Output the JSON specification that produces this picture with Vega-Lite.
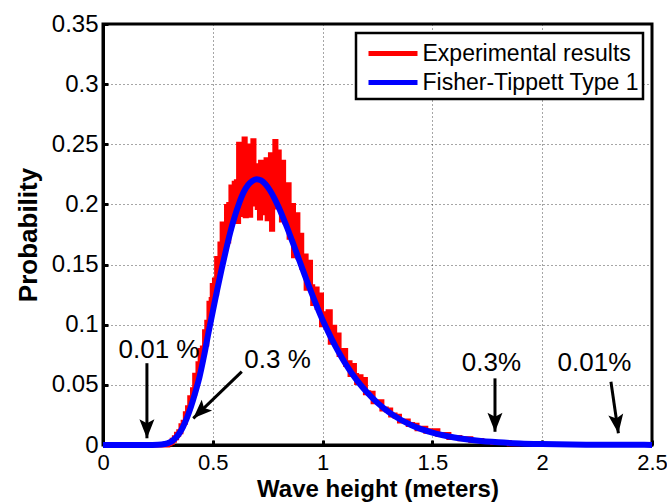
{
  "$schema": "https://vega.github.io/schema/vega-lite/v6.json",
  "autosize": {"type": "none"},
  "width": 549,
  "height": 421,
  "padding": {"left": 103, "top": 24, "right": 15, "bottom": 59},
  "background": "white",
  "config": {
    "font": "Liberation Sans",
    "view": {"stroke": "#000", "strokeWidth": 3},
    "axis": {
      "labelFont": "Liberation Sans",
      "labelFontSize": 24,
      "labelColor": "#000",
      "titleFont": "Liberation Sans",
      "titleFontSize": 26,
      "titleFontWeight": "bold",
      "titleColor": "#000",
      "domainColor": "#000",
      "domainWidth": 3,
      "tickColor": "#000",
      "tickWidth": 3,
      "tickSize": -5,
      "gridColor": "#000",
      "gridOpacity": 0.7,
      "gridDash": [1, 3],
      "gridWidth": 1,
      "zindex": 1
    },
    "legend": {
      "orient": "top-right",
      "offset": 9,
      "fillColor": "white",
      "strokeColor": "#000",
      "strokeWidth": 2.5,
      "padding": 4,
      "labelFont": "Liberation Sans",
      "labelFontSize": 23,
      "labelColor": "#000",
      "labelOffset": 13,
      "symbolType": "M-1.75,0L1.75,0",
      "symbolStrokeWidth": 5,
      "symbolSize": 784,
      "symbolOffset": 16.5,
      "rowPadding": 0,
      "labelLimit": 400
    }
  },
  "datasets": {
    "curves": [
      {"series": "Experimental results", "x": 0.0, "y": 0},
      {"series": "Experimental results", "x": 0.29, "y": 0},
      {"series": "Experimental results", "x": 0.30, "y": 0.001},
      {"series": "Experimental results", "x": 0.31, "y": 0.002},
      {"series": "Experimental results", "x": 0.32, "y": 0.004},
      {"series": "Experimental results", "x": 0.33, "y": 0.006},
      {"series": "Experimental results", "x": 0.34, "y": 0.009},
      {"series": "Experimental results", "x": 0.35, "y": 0.011},
      {"series": "Experimental results", "x": 0.36, "y": 0.016},
      {"series": "Experimental results", "x": 0.37, "y": 0.019},
      {"series": "Experimental results", "x": 0.38, "y": 0.026},
      {"series": "Experimental results", "x": 0.39, "y": 0.031},
      {"series": "Experimental results", "x": 0.400, "y": 0.0392},
      {"series": "Experimental results", "x": 0.405, "y": 0.0380},
      {"series": "Experimental results", "x": 0.410, "y": 0.0459},
      {"series": "Experimental results", "x": 0.415, "y": 0.0429},
      {"series": "Experimental results", "x": 0.420, "y": 0.0580},
      {"series": "Experimental results", "x": 0.425, "y": 0.0553},
      {"series": "Experimental results", "x": 0.430, "y": 0.0545},
      {"series": "Experimental results", "x": 0.435, "y": 0.0675},
      {"series": "Experimental results", "x": 0.440, "y": 0.0648},
      {"series": "Experimental results", "x": 0.445, "y": 0.0786},
      {"series": "Experimental results", "x": 0.450, "y": 0.0686},
      {"series": "Experimental results", "x": 0.455, "y": 0.0807},
      {"series": "Experimental results", "x": 0.460, "y": 0.0803},
      {"series": "Experimental results", "x": 0.465, "y": 0.0942},
      {"series": "Experimental results", "x": 0.470, "y": 0.0840},
      {"series": "Experimental results", "x": 0.475, "y": 0.1021},
      {"series": "Experimental results", "x": 0.480, "y": 0.1010},
      {"series": "Experimental results", "x": 0.485, "y": 0.1178},
      {"series": "Experimental results", "x": 0.490, "y": 0.1066},
      {"series": "Experimental results", "x": 0.495, "y": 0.1210},
      {"series": "Experimental results", "x": 0.500, "y": 0.1325},
      {"series": "Experimental results", "x": 0.505, "y": 0.1222},
      {"series": "Experimental results", "x": 0.510, "y": 0.1372},
      {"series": "Experimental results", "x": 0.515, "y": 0.1262},
      {"series": "Experimental results", "x": 0.520, "y": 0.1550},
      {"series": "Experimental results", "x": 0.525, "y": 0.1468},
      {"series": "Experimental results", "x": 0.530, "y": 0.1427},
      {"series": "Experimental results", "x": 0.535, "y": 0.1672},
      {"series": "Experimental results", "x": 0.540, "y": 0.1590},
      {"series": "Experimental results", "x": 0.545, "y": 0.1837},
      {"series": "Experimental results", "x": 0.550, "y": 0.1583},
      {"series": "Experimental results", "x": 0.555, "y": 0.1804},
      {"series": "Experimental results", "x": 0.560, "y": 0.1747},
      {"series": "Experimental results", "x": 0.565, "y": 0.1983},
      {"series": "Experimental results", "x": 0.570, "y": 0.1695},
      {"series": "Experimental results", "x": 0.575, "y": 0.2000},
      {"series": "Experimental results", "x": 0.580, "y": 0.1917},
      {"series": "Experimental results", "x": 0.585, "y": 0.2145},
      {"series": "Experimental results", "x": 0.590, "y": 0.1866},
      {"series": "Experimental results", "x": 0.595, "y": 0.2047},
      {"series": "Experimental results", "x": 0.600, "y": 0.2176},
      {"series": "Experimental results", "x": 0.605, "y": 0.1936},
      {"series": "Experimental results", "x": 0.610, "y": 0.2189},
      {"series": "Experimental results", "x": 0.615, "y": 0.1859},
      {"series": "Experimental results", "x": 0.620, "y": 0.2500},
      {"series": "Experimental results", "x": 0.625, "y": 0.2150},
      {"series": "Experimental results", "x": 0.630, "y": 0.1916},
      {"series": "Experimental results", "x": 0.635, "y": 0.2396},
      {"series": "Experimental results", "x": 0.640, "y": 0.2064},
      {"series": "Experimental results", "x": 0.645, "y": 0.2543},
      {"series": "Experimental results", "x": 0.650, "y": 0.1906},
      {"series": "Experimental results", "x": 0.655, "y": 0.2284},
      {"series": "Experimental results", "x": 0.660, "y": 0.2113},
      {"series": "Experimental results", "x": 0.665, "y": 0.2485},
      {"series": "Experimental results", "x": 0.670, "y": 0.1911},
      {"series": "Experimental results", "x": 0.675, "y": 0.2409},
      {"series": "Experimental results", "x": 0.680, "y": 0.2206},
      {"series": "Experimental results", "x": 0.685, "y": 0.2530},
      {"series": "Experimental results", "x": 0.690, "y": 0.2004},
      {"series": "Experimental results", "x": 0.695, "y": 0.2220},
      {"series": "Experimental results", "x": 0.700, "y": 0.2321},
      {"series": "Experimental results", "x": 0.705, "y": 0.1975},
      {"series": "Experimental results", "x": 0.710, "y": 0.2200},
      {"series": "Experimental results", "x": 0.715, "y": 0.1887},
      {"series": "Experimental results", "x": 0.720, "y": 0.2350},
      {"series": "Experimental results", "x": 0.725, "y": 0.2095},
      {"series": "Experimental results", "x": 0.730, "y": 0.1931},
      {"series": "Experimental results", "x": 0.735, "y": 0.2249},
      {"series": "Experimental results", "x": 0.740, "y": 0.2024},
      {"series": "Experimental results", "x": 0.745, "y": 0.2372},
      {"series": "Experimental results", "x": 0.750, "y": 0.1880},
      {"series": "Experimental results", "x": 0.755, "y": 0.2201},
      {"series": "Experimental results", "x": 0.760, "y": 0.2030},
      {"series": "Experimental results", "x": 0.765, "y": 0.2414},
      {"series": "Experimental results", "x": 0.770, "y": 0.1794},
      {"series": "Experimental results", "x": 0.775, "y": 0.2336},
      {"series": "Experimental results", "x": 0.780, "y": 0.2101},
      {"series": "Experimental results", "x": 0.785, "y": 0.2523},
      {"series": "Experimental results", "x": 0.790, "y": 0.1979},
      {"series": "Experimental results", "x": 0.795, "y": 0.2268},
      {"series": "Experimental results", "x": 0.800, "y": 0.2435},
      {"series": "Experimental results", "x": 0.805, "y": 0.2025},
      {"series": "Experimental results", "x": 0.810, "y": 0.2245},
      {"series": "Experimental results", "x": 0.815, "y": 0.1870},
      {"series": "Experimental results", "x": 0.820, "y": 0.2350},
      {"series": "Experimental results", "x": 0.825, "y": 0.2046},
      {"series": "Experimental results", "x": 0.830, "y": 0.1857},
      {"series": "Experimental results", "x": 0.835, "y": 0.2146},
      {"series": "Experimental results", "x": 0.840, "y": 0.1908},
      {"series": "Experimental results", "x": 0.845, "y": 0.2164},
      {"series": "Experimental results", "x": 0.850, "y": 0.1727},
      {"series": "Experimental results", "x": 0.855, "y": 0.1928},
      {"series": "Experimental results", "x": 0.860, "y": 0.1775},
      {"series": "Experimental results", "x": 0.865, "y": 0.1992},
      {"series": "Experimental results", "x": 0.870, "y": 0.1574},
      {"series": "Experimental results", "x": 0.875, "y": 0.1878},
      {"series": "Experimental results", "x": 0.880, "y": 0.1707},
      {"series": "Experimental results", "x": 0.885, "y": 0.1915},
      {"series": "Experimental results", "x": 0.890, "y": 0.1563},
      {"series": "Experimental results", "x": 0.895, "y": 0.1683},
      {"series": "Experimental results", "x": 0.900, "y": 0.1744},
      {"series": "Experimental results", "x": 0.91, "y": 0.1478},
      {"series": "Experimental results", "x": 0.92, "y": 0.1572},
      {"series": "Experimental results", "x": 0.93, "y": 0.1303},
      {"series": "Experimental results", "x": 0.94, "y": 0.1520},
      {"series": "Experimental results", "x": 0.95, "y": 0.1315},
      {"series": "Experimental results", "x": 0.96, "y": 0.1176},
      {"series": "Experimental results", "x": 0.97, "y": 0.1296},
      {"series": "Experimental results", "x": 0.98, "y": 0.1144},
      {"series": "Experimental results", "x": 0.99, "y": 0.1247},
      {"series": "Experimental results", "x": 1.00, "y": 0.0999},
      {"series": "Experimental results", "x": 1.01, "y": 0.1092},
      {"series": "Experimental results", "x": 1.02, "y": 0.0998},
      {"series": "Experimental results", "x": 1.03, "y": 0.1108},
      {"series": "Experimental results", "x": 1.04, "y": 0.0854},
      {"series": "Experimental results", "x": 1.05, "y": 0.0979},
      {"series": "Experimental results", "x": 1.06, "y": 0.0857},
      {"series": "Experimental results", "x": 1.07, "y": 0.0915},
      {"series": "Experimental results", "x": 1.08, "y": 0.0753},
      {"series": "Experimental results", "x": 1.09, "y": 0.0786},
      {"series": "Experimental results", "x": 1.10, "y": 0.0786},
      {"series": "Experimental results", "x": 1.11, "y": 0.0669},
      {"series": "Experimental results", "x": 1.12, "y": 0.0684},
      {"series": "Experimental results", "x": 1.13, "y": 0.0587},
      {"series": "Experimental results", "x": 1.14, "y": 0.0660},
      {"series": "Experimental results", "x": 1.15, "y": 0.0578},
      {"series": "Experimental results", "x": 1.16, "y": 0.0520},
      {"series": "Experimental results", "x": 1.17, "y": 0.0568},
      {"series": "Experimental results", "x": 1.18, "y": 0.0508},
      {"series": "Experimental results", "x": 1.19, "y": 0.0545},
      {"series": "Experimental results", "x": 1.20, "y": 0.0435},
      {"series": "Experimental results", "x": 1.22, "y": 0.043},
      {"series": "Experimental results", "x": 1.24, "y": 0.036},
      {"series": "Experimental results", "x": 1.26, "y": 0.036},
      {"series": "Experimental results", "x": 1.28, "y": 0.030},
      {"series": "Experimental results", "x": 1.30, "y": 0.029},
      {"series": "Experimental results", "x": 1.32, "y": 0.025},
      {"series": "Experimental results", "x": 1.34, "y": 0.024},
      {"series": "Experimental results", "x": 1.36, "y": 0.020},
      {"series": "Experimental results", "x": 1.38, "y": 0.020},
      {"series": "Experimental results", "x": 1.40, "y": 0.017},
      {"series": "Experimental results", "x": 1.42, "y": 0.0165},
      {"series": "Experimental results", "x": 1.44, "y": 0.0135},
      {"series": "Experimental results", "x": 1.46, "y": 0.014},
      {"series": "Experimental results", "x": 1.48, "y": 0.0115},
      {"series": "Experimental results", "x": 1.50, "y": 0.0118},
      {"series": "Experimental results", "x": 1.55, "y": 0.0088},
      {"series": "Experimental results", "x": 1.60, "y": 0.0062},
      {"series": "Experimental results", "x": 1.65, "y": 0.0053},
      {"series": "Experimental results", "x": 1.70, "y": 0.0037},
      {"series": "Experimental results", "x": 1.75, "y": 0.003},
      {"series": "Experimental results", "x": 1.80, "y": 0.0021},
      {"series": "Experimental results", "x": 1.90, "y": 0.001},
      {"series": "Fisher-Tippett Type 1", "x": 0.0, "y": 0},
      {"series": "Fisher-Tippett Type 1", "x": 0.1, "y": 0},
      {"series": "Fisher-Tippett Type 1", "x": 0.2, "y": 0},
      {"series": "Fisher-Tippett Type 1", "x": 0.25, "y": 0.0002},
      {"series": "Fisher-Tippett Type 1", "x": 0.28, "y": 0.0008},
      {"series": "Fisher-Tippett Type 1", "x": 0.30, "y": 0.0018},
      {"series": "Fisher-Tippett Type 1", "x": 0.32, "y": 0.0040},
      {"series": "Fisher-Tippett Type 1", "x": 0.34, "y": 0.0078},
      {"series": "Fisher-Tippett Type 1", "x": 0.36, "y": 0.0135},
      {"series": "Fisher-Tippett Type 1", "x": 0.38, "y": 0.0215},
      {"series": "Fisher-Tippett Type 1", "x": 0.40, "y": 0.0315},
      {"series": "Fisher-Tippett Type 1", "x": 0.42, "y": 0.0435},
      {"series": "Fisher-Tippett Type 1", "x": 0.44, "y": 0.0570},
      {"series": "Fisher-Tippett Type 1", "x": 0.46, "y": 0.0740},
      {"series": "Fisher-Tippett Type 1", "x": 0.48, "y": 0.0930},
      {"series": "Fisher-Tippett Type 1", "x": 0.50, "y": 0.1110},
      {"series": "Fisher-Tippett Type 1", "x": 0.52, "y": 0.1290},
      {"series": "Fisher-Tippett Type 1", "x": 0.54, "y": 0.1460},
      {"series": "Fisher-Tippett Type 1", "x": 0.56, "y": 0.1620},
      {"series": "Fisher-Tippett Type 1", "x": 0.58, "y": 0.1770},
      {"series": "Fisher-Tippett Type 1", "x": 0.60, "y": 0.1900},
      {"series": "Fisher-Tippett Type 1", "x": 0.62, "y": 0.2010},
      {"series": "Fisher-Tippett Type 1", "x": 0.64, "y": 0.2100},
      {"series": "Fisher-Tippett Type 1", "x": 0.66, "y": 0.2160},
      {"series": "Fisher-Tippett Type 1", "x": 0.68, "y": 0.2195},
      {"series": "Fisher-Tippett Type 1", "x": 0.70, "y": 0.2210},
      {"series": "Fisher-Tippett Type 1", "x": 0.72, "y": 0.2200},
      {"series": "Fisher-Tippett Type 1", "x": 0.74, "y": 0.2168},
      {"series": "Fisher-Tippett Type 1", "x": 0.76, "y": 0.2118},
      {"series": "Fisher-Tippett Type 1", "x": 0.78, "y": 0.2053},
      {"series": "Fisher-Tippett Type 1", "x": 0.80, "y": 0.1976},
      {"series": "Fisher-Tippett Type 1", "x": 0.82, "y": 0.1890},
      {"series": "Fisher-Tippett Type 1", "x": 0.84, "y": 0.1800},
      {"series": "Fisher-Tippett Type 1", "x": 0.86, "y": 0.1703},
      {"series": "Fisher-Tippett Type 1", "x": 0.88, "y": 0.1604},
      {"series": "Fisher-Tippett Type 1", "x": 0.90, "y": 0.1504},
      {"series": "Fisher-Tippett Type 1", "x": 0.92, "y": 0.1406},
      {"series": "Fisher-Tippett Type 1", "x": 0.94, "y": 0.1309},
      {"series": "Fisher-Tippett Type 1", "x": 0.96, "y": 0.1216},
      {"series": "Fisher-Tippett Type 1", "x": 0.98, "y": 0.1126},
      {"series": "Fisher-Tippett Type 1", "x": 1.00, "y": 0.1040},
      {"series": "Fisher-Tippett Type 1", "x": 1.02, "y": 0.0962},
      {"series": "Fisher-Tippett Type 1", "x": 1.04, "y": 0.0886},
      {"series": "Fisher-Tippett Type 1", "x": 1.06, "y": 0.0816},
      {"series": "Fisher-Tippett Type 1", "x": 1.08, "y": 0.0750},
      {"series": "Fisher-Tippett Type 1", "x": 1.10, "y": 0.0688},
      {"series": "Fisher-Tippett Type 1", "x": 1.12, "y": 0.0631},
      {"series": "Fisher-Tippett Type 1", "x": 1.14, "y": 0.0578},
      {"series": "Fisher-Tippett Type 1", "x": 1.16, "y": 0.0529},
      {"series": "Fisher-Tippett Type 1", "x": 1.18, "y": 0.0484},
      {"series": "Fisher-Tippett Type 1", "x": 1.20, "y": 0.0442},
      {"series": "Fisher-Tippett Type 1", "x": 1.25, "y": 0.0350},
      {"series": "Fisher-Tippett Type 1", "x": 1.30, "y": 0.0276},
      {"series": "Fisher-Tippett Type 1", "x": 1.35, "y": 0.0216},
      {"series": "Fisher-Tippett Type 1", "x": 1.40, "y": 0.0168},
      {"series": "Fisher-Tippett Type 1", "x": 1.50, "y": 0.0102},
      {"series": "Fisher-Tippett Type 1", "x": 1.60, "y": 0.0062},
      {"series": "Fisher-Tippett Type 1", "x": 1.70, "y": 0.0037},
      {"series": "Fisher-Tippett Type 1", "x": 1.80, "y": 0.0022},
      {"series": "Fisher-Tippett Type 1", "x": 1.90, "y": 0.0013},
      {"series": "Fisher-Tippett Type 1", "x": 2.00, "y": 0.0008},
      {"series": "Fisher-Tippett Type 1", "x": 2.20, "y": 0.0003},
      {"series": "Fisher-Tippett Type 1", "x": 2.50, "y": 0.0001}
    ],
    "notes": [
      {"label": "0.01 %", "x": 0.255, "y": 0.0725},
      {"label": "0.3 %", "x": 0.795, "y": 0.064},
      {"label": "0.3%", "x": 1.769, "y": 0.0618},
      {"label": "0.01%", "x": 2.238, "y": 0.0618}
    ],
    "arrows": [
      {"arrow": "a1", "x0": 0.2, "y0": 0.068, "x1": 0.2, "y1": 0.0056},
      {"arrow": "a2", "x0": 0.632, "y0": 0.061, "x1": 0.411, "y1": 0.0222},
      {"arrow": "a3", "x0": 1.785, "y0": 0.0554, "x1": 1.785, "y1": 0.011},
      {"arrow": "a4", "x0": 2.313, "y0": 0.0526, "x1": 2.347, "y1": 0.0097}
    ]
  },
  "layer": [
    {
      "data": {"name": "curves"},
      "transform": [{"filter": "datum.series === 'Experimental results'"}],
      "mark": {"type": "line", "interpolate": "step", "strokeWidth": 5, "clip": false},
      "encoding": {
        "x": {"field": "x", "type": "quantitative",
          "scale": {"domain": [0, 2.5], "nice": false, "zero": false},
          "axis": {"title": "Wave height (meters)", "values": [0, 0.5, 1, 1.5, 2, 2.5], "format": "~g", "labelFontSize": 22, "labelPadding": 12, "titleFontSize": 24, "titlePadding": 4, "labelFlush": false}},
        "y": {"field": "y", "type": "quantitative",
          "scale": {"domain": [0, 0.35], "nice": false},
          "axis": {"title": "Probability", "values": [0, 0.05, 0.1, 0.15, 0.2, 0.25, 0.3, 0.35], "format": "~g", "labelPadding": 10, "titlePadding": 10, "labelFlush": false}},
        "color": {"field": "series", "type": "nominal",
          "scale": {"domain": ["Experimental results", "Fisher-Tippett Type 1"], "range": ["#ff0000", "#0000ff"]},
          "legend": {"title": null}}
      }
    },
    {
      "data": {"name": "curves"},
      "transform": [{"filter": "datum.series === 'Fisher-Tippett Type 1'"}],
      "mark": {"type": "line", "interpolate": "monotone", "strokeWidth": 6, "clip": false},
      "encoding": {
        "x": {"field": "x", "type": "quantitative"},
        "y": {"field": "y", "type": "quantitative"},
        "color": {"field": "series", "type": "nominal"}
      }
    },
    {
      "data": {"name": "notes"},
      "mark": {"type": "text", "fontSize": 26, "font": "Liberation Sans", "color": "#000", "align": "center", "baseline": "alphabetic"},
      "encoding": {
        "x": {"field": "x", "type": "quantitative"},
        "y": {"field": "y", "type": "quantitative"},
        "text": {"field": "label"}
      }
    },
    {
      "data": {"name": "arrows"},
      "mark": {"type": "rule", "strokeWidth": 3, "color": "#000"},
      "encoding": {
        "x": {"field": "x0", "type": "quantitative"},
        "y": {"field": "y0", "type": "quantitative"},
        "x2": {"field": "x1"},
        "y2": {"field": "y1"}
      }
    },
    {
      "data": {"name": "arrows"},
      "transform": [{"filter": "datum.arrow === 'a1' || datum.arrow === 'a3'"}],
      "mark": {"type": "point", "shape": "M0,0L-0.75,-1.9L0,-1.5L0.75,-1.9Z", "size": 400, "filled": true, "color": "#000", "opacity": 1, "angle": 0},
      "encoding": {
        "x": {"field": "x1", "type": "quantitative"},
        "y": {"field": "y1", "type": "quantitative"}
      }
    },
    {
      "data": {"name": "arrows"},
      "transform": [{"filter": "datum.arrow === 'a2'"}],
      "mark": {"type": "point", "shape": "M0,0L-0.75,-1.9L0,-1.5L0.75,-1.9Z", "size": 400, "filled": true, "color": "#000", "opacity": 1, "angle": 46},
      "encoding": {
        "x": {"field": "x1", "type": "quantitative"},
        "y": {"field": "y1", "type": "quantitative"}
      }
    },
    {
      "data": {"name": "arrows"},
      "transform": [{"filter": "datum.arrow === 'a4'"}],
      "mark": {"type": "point", "shape": "M0,0L-0.75,-1.9L0,-1.5L0.75,-1.9Z", "size": 400, "filled": true, "color": "#000", "opacity": 1, "angle": 352},
      "encoding": {
        "x": {"field": "x1", "type": "quantitative"},
        "y": {"field": "y1", "type": "quantitative"}
      }
    }
  ]
}
